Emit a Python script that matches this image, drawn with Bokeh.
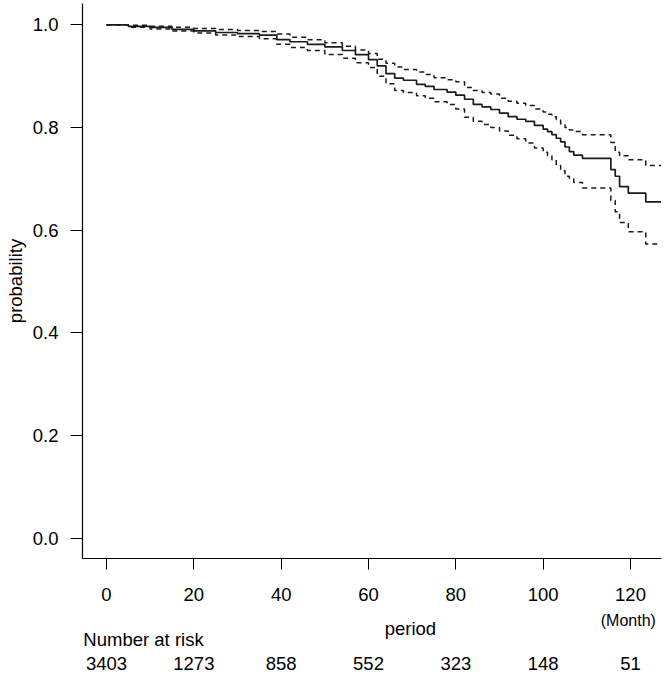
from bokeh.plotting import figure
from bokeh.layouts import column
from bokeh.models import FixedTicker, NumeralTickFormatter, ColumnDataSource, Range1d
from bokeh.core.properties import value
from bokeh.embed import file_html
from bokeh.resources import INLINE

# ---- data (Kaplan-Meier estimate with 95% CI) ----
time = [0, 5, 10, 15, 20, 25, 30, 35, 39, 42, 46, 50, 54, 57, 60, 62, 64, 66,
        68, 71, 73, 75, 78, 80, 82, 84, 86, 88, 90, 92, 94, 96, 98, 100, 101,
        102, 103, 104, 105, 106, 107, 109, 115.5, 116.5, 117.5, 119.5, 123.5, 127]
surv = [1.000, 0.997, 0.995, 0.991, 0.988, 0.985, 0.983, 0.980, 0.971, 0.967,
        0.962, 0.957, 0.950, 0.942, 0.932, 0.920, 0.905, 0.896, 0.892, 0.884,
        0.880, 0.874, 0.869, 0.863, 0.855, 0.845, 0.840, 0.835, 0.828, 0.821,
        0.816, 0.812, 0.804, 0.797, 0.792, 0.786, 0.779, 0.772, 0.762, 0.753,
        0.746, 0.740, 0.718, 0.705, 0.685, 0.672, 0.655, 0.655]
upper = [1.000, 0.999, 0.997, 0.995, 0.993, 0.991, 0.989, 0.987, 0.982, 0.976,
         0.971, 0.965, 0.958, 0.951, 0.944, 0.933, 0.925, 0.918, 0.913, 0.908,
         0.903, 0.897, 0.893, 0.889, 0.878, 0.872, 0.868, 0.865, 0.857, 0.851,
         0.847, 0.843, 0.836, 0.830, 0.826, 0.821, 0.815, 0.807, 0.800, 0.795,
         0.792, 0.786, 0.771, 0.752, 0.745, 0.737, 0.726, 0.726]
lower = [1.000, 0.995, 0.992, 0.988, 0.984, 0.980, 0.977, 0.973, 0.962, 0.956,
         0.950, 0.942, 0.935, 0.926, 0.917, 0.900, 0.885, 0.872, 0.868, 0.862,
         0.857, 0.850, 0.845, 0.836, 0.820, 0.812, 0.806, 0.800, 0.793, 0.785,
         0.778, 0.770, 0.760, 0.752, 0.745, 0.737, 0.726, 0.716, 0.705, 0.700,
         0.693, 0.682, 0.658, 0.636, 0.615, 0.597, 0.573, 0.573]

x_ticks = [0, 20, 40, 60, 80, 100, 120]
y_ticks = [0.0, 0.2, 0.4, 0.6, 0.8, 1.0]
risk_times = [0, 20, 40, 60, 80, 100, 120]
risk_counts = [3403, 1273, 858, 552, 323, 148, 51]

FONT = "Liberation Sans"
FS = "18.5px"
INK = "#1a1a1a"

xr = Range1d(-5.5, 127.1)

# ---------------- main survival plot ----------------
p = figure(width=669, height=610, output_backend="svg", toolbar_location=None,
           x_range=xr, y_range=Range1d(-0.0395, 1.0415),
           min_border_left=82, min_border_right=8, min_border_top=3,
           min_border_bottom=52)
p.outline_line_color = None
p.grid.visible = False
p.background_fill_color = "white"
p.border_fill_color = "white"

src = ColumnDataSource(dict(t=time, s=surv, u=upper, l=lower))
p.step("t", "u", source=src, mode="after", line_color=INK,
       line_width=1.5, line_dash="5 4")
p.step("t", "l", source=src, mode="after", line_color=INK,
       line_width=1.5, line_dash="5 4")
p.step("t", "s", source=src, mode="after", line_color=INK, line_width=1.7)

xa = p.xaxis[0]
xa.ticker = FixedTicker(ticks=x_ticks)
xa.major_tick_out = 11
xa.major_tick_in = 0
xa.minor_tick_out = 0
xa.minor_tick_in = 0
xa.axis_line_color = "black"
xa.axis_line_width = 1.2
xa.major_tick_line_color = "black"
xa.major_label_text_font = FONT
xa.major_label_text_font_size = FS
xa.major_label_text_color = "black"
xa.major_label_standoff = 18

ya = p.yaxis[0]
ya.ticker = FixedTicker(ticks=y_ticks)
ya.formatter = NumeralTickFormatter(format="0.0")
ya.major_tick_out = 12
ya.major_tick_in = 0
ya.minor_tick_out = 0
ya.minor_tick_in = 0
ya.axis_line_color = "black"
ya.axis_line_width = 1.2
ya.major_tick_line_color = "black"
ya.major_label_text_font = FONT
ya.major_label_text_font_size = FS
ya.major_label_text_color = "black"
ya.major_label_standoff = 12
ya.axis_label = "probability"
ya.axis_label_text_font = FONT
ya.axis_label_text_font_size = FS
ya.axis_label_text_font_style = "normal"
ya.axis_label_text_color = "black"
ya.axis_label_standoff = 4

# ---------------- strip below: axis title and number at risk ----------------
# y range of this strip runs in page pixels (610 at top, 675 at bottom)
q = figure(width=669, height=65, output_backend="svg", toolbar_location=None,
           x_range=xr, y_range=Range1d(675, 610),
           min_border_left=82, min_border_right=8, min_border_top=0,
           min_border_bottom=0, x_axis_location=None, y_axis_location=None)
q.outline_line_color = None
q.grid.visible = False
q.background_fill_color = "white"
q.border_fill_color = "white"

q.text(x=[69.6], y=[628.3], text=["period"], text_align="center",
       text_baseline="alphabetic", text_font=value(FONT),
       text_font_size=value(FS), text_color="black")
q.text(x=[119.5], y=[620.0], text=["(Month)"], text_align="center",
       text_baseline="alphabetic", text_font=value(FONT),
       text_font_size=value("16px"), text_color="black")
q.text(x=[-5.3], y=[639.0], text=["Number at risk"], text_align="left",
       text_baseline="alphabetic", text_font=value(FONT),
       text_font_size=value(FS), text_color="black")

risk_src = ColumnDataSource(dict(x=risk_times,
                                 y=[662.5] * len(risk_times),
                                 text=[str(n) for n in risk_counts]))
q.text(x="x", y="y", text="text", source=risk_src, text_align="center",
       text_baseline="alphabetic", text_font=value(FONT),
       text_font_size=value(FS), text_color="black")

layout = column(p, q, spacing=0)
open("out.html", "w").write(file_html(layout, INLINE))
